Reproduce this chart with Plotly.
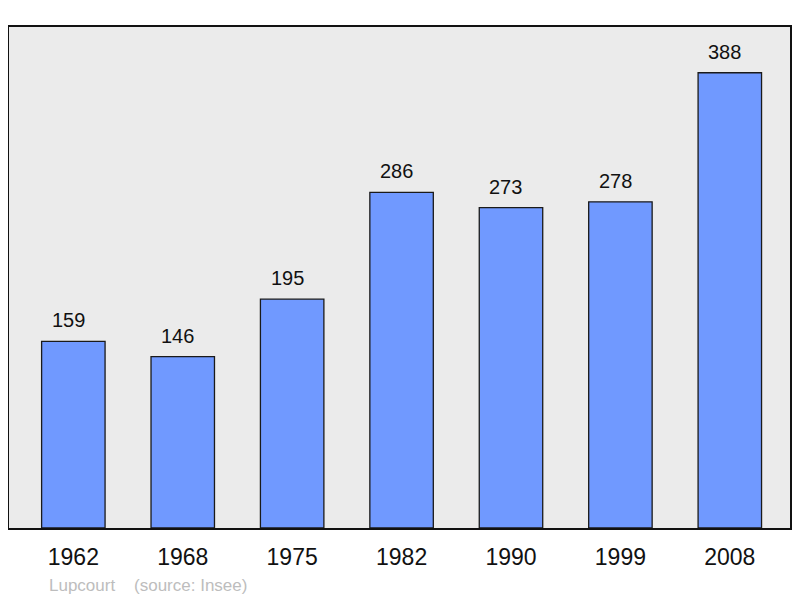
import plotly.graph_objects as go

years = ["1962", "1968", "1975", "1982", "1990", "1999", "2008"]
population = [159, 146, 195, 286, 273, 278, 388]
source_text = "Lupcourt    (source: Insee)"

FONT = "Liberation Sans, Arial, sans-serif"

# page body has an 8px margin: figure is sized/offset to compensate
W, H = 792, 590
L, R, T, B = 1, 10, 19, 70
pw, ph = W - L - R, H - T - B

fig = go.Figure()
fig.add_trace(go.Bar(
    x=years, y=population,
    width=0.58,
    marker=dict(color="#7099ff", line=dict(color="#1a1a1a", width=1.3)),
    hoverinfo="skip",
))

for i, v in enumerate(population):
    fig.add_annotation(x=i, y=v, text=str(v), showarrow=False,
                       yanchor="middle", yshift=21, xshift=-5,
                       font=dict(family=FONT, size=20, color="#111111"))

fig.add_annotation(xref="paper", yref="paper", x=(47 - 9) / pw, y=(528 - 585) / ph,
                   xanchor="left", yanchor="middle", text=source_text.replace(" ", "&nbsp;"),
                   showarrow=False, font=dict(family=FONT, size=17, color="#bdbdbd"))

fig.update_layout(
    width=W, height=H,
    margin=dict(l=L, r=R, t=T, b=B),
    paper_bgcolor="white", plot_bgcolor="#ebebeb",
    showlegend=False,
    font=dict(family=FONT),
    xaxis=dict(type="category", range=[-0.588, 6.55], showgrid=False, zeroline=False,
               showline=True, mirror=True, linecolor="#111111", linewidth=2,
               ticks="", tickfont=dict(size=23, color="#111111"), ticklabelstandoff=7,
               fixedrange=True),
    yaxis=dict(range=[0, 427], showgrid=False, zeroline=False, showticklabels=False,
               showline=True, mirror=True, linecolor="#111111", linewidth=2,
               ticks="", fixedrange=True),
)

fig.write_html("out.html")
